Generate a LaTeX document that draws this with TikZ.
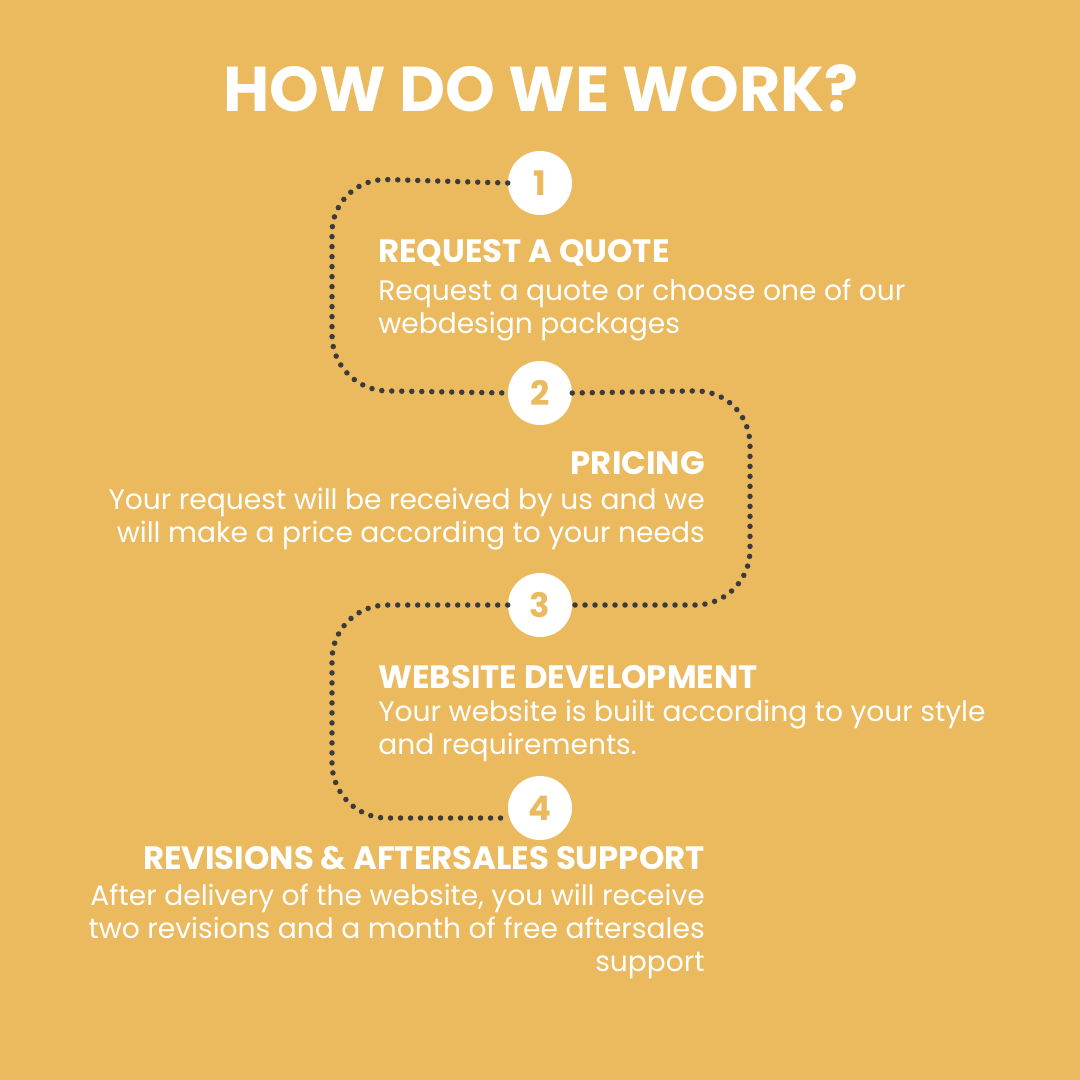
\documentclass[tikz,border=0pt]{standalone}
\usepackage{fontspec}
\setmainfont{Poppins}
\usetikzlibrary{positioning}
\definecolor{bgyellow}{HTML}{EBBA5F}
\definecolor{pathgray}{HTML}{3B3B3B}
\begin{document}
\begin{tikzpicture}[x=0.025cm, y=-0.025cm,
    stepnum/.style={circle, fill=white, minimum size=64*0.025cm, inner sep=0pt,
        text=bgyellow, font=\fontsize{24}{24}\selectfont\bfseries},
    steptitle/.style={text=white, inner sep=0pt, font=\fontsize{23}{24}\selectfont\bfseries},
    stepbody/.style={text=white, inner sep=0pt, font=\fontsize{20}{23.4}\selectfont},
    trail/.style={draw=pathgray, line width=5.5*0.025cm, line cap=round,
        dash pattern=on 0pt off 10*0.025cm, rounded corners=55*0.025cm}
]
    \fill[bgyellow] (0,0) rectangle (1080,1080);
    \node[text=white, inner sep=0pt, font=\fontsize{45}{45}\selectfont\bfseries]
        (title) at (541,88) {HOW DO WE WORK?};
    % numbered steps
    \node[stepnum] (s1) at (540,183) {1};
    \node[stepnum] (s2) at (540,393) {2};
    \node[stepnum] (s3) at (540,605) {3};
    \node[stepnum] (s4) at (540,808) {4};
    % dotted trail
    \draw[trail] (s1.west) -- (332,178) -- (332,390) -- (s2.west);
    \draw[trail] (s2.east) -- (750,390) -- (750,605) -- (s3.east);
    \draw[trail] (s3.west) -- (332,605) -- (332,818) -- (505,818);
    % step texts
    \node[steptitle, anchor=base west] (t1) at (378,262) {REQUEST A QUOTE};
    \node[stepbody, anchor=north west, align=left] (b1) at (378,279)
        {Request a quote or choose one of our\\webdesign packages};
    \node[steptitle, anchor=base east] (t2) at (705,474) {PRICING};
    \node[stepbody, anchor=north east, align=right] (b2) at (705,488)
        {Your request will be received by us and we\\will make a price according to your needs};
    \node[steptitle, anchor=base east] (t4) at (705,869) {REVISIONS \& AFTERSALES SUPPORT};
    \node[steptitle, anchor=base west] (t3) at (378,688) {WEBSITE DEVELOPMENT};
    \node[stepbody, anchor=north west, align=left] (b3) at (378,700)
        {Your website is built according to your style\\and requirements.};
    \node[stepbody, anchor=north east, align=right] (b4) at (705,884)
        {After delivery of the website, you will receive\\two revisions and a month of free aftersales\\support};
\end{tikzpicture}
\end{document}
